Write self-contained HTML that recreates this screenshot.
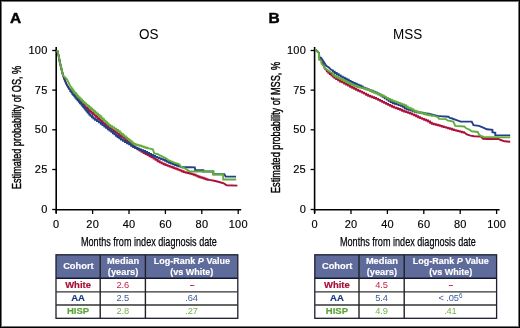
<!DOCTYPE html>
<html><head><meta charset="utf-8"><style>
html,body{margin:0;padding:0;background:#fff;}
body{width:520px;height:328px;position:relative;overflow:hidden;will-change:transform;font-family:"Liberation Sans",sans-serif;color:#000;}
.frame{position:absolute;left:0;top:0;width:520px;height:328px;box-sizing:border-box;border:1px solid #000;box-shadow:inset 0 0 0 1px rgba(0,0,0,0.55);z-index:5;}
.pl{position:absolute;top:10.1px;font-weight:bold;font-size:15.5px;line-height:16px;-webkit-text-stroke:0.45px #000;}
.ttl{position:absolute;top:26.3px;font-size:13.5px;line-height:16px;transform:scaleY(1.1);transform-origin:0 0;}
.yt{position:absolute;font-size:11px;line-height:13px;letter-spacing:0.25px;text-align:right;-webkit-text-stroke:0.15px #000;}
.xt{position:absolute;width:40px;text-align:center;font-size:11px;line-height:13px;letter-spacing:0.25px;-webkit-text-stroke:0.15px #000;}
.ylab{position:absolute;font-size:12.5px;line-height:14px;white-space:nowrap;transform-origin:0 0;-webkit-text-stroke:0.4px #000;}
.hd span{white-space:nowrap;}
.xlab{position:absolute;font-size:12.8px;line-height:15px;white-space:nowrap;transform-origin:0 0;-webkit-text-stroke:0.25px #000;}
svg{position:absolute;left:0;top:0;}
.cell{position:absolute;display:flex;align-items:center;justify-content:center;text-align:center;font-size:9.3px;line-height:10.5px;white-space:nowrap;}
.hdc{color:#fff;font-weight:bold;-webkit-text-stroke:0.15px #fff;}
.hdc span{position:relative;top:0.2px;left:0.3px;}
.hd3{font-size:9.0px;}
.b{font-weight:bold;font-size:9.5px;-webkit-text-stroke:0.2px currentColor;}
.n{letter-spacing:-0.15px;}
.dash{font-weight:bold;font-size:8.6px;position:relative;left:0.4px;}
.sup{font-size:6.3px;position:relative;top:-2.9px;left:0.2px;}
.red{color:#a80f38;} .blue{color:#1c3a82;} .green{color:#5ca43a;}
.nred{color:#c0244c;} .nblue{color:#3d5b98;} .ngreen{color:#74b04e;}
</style></head><body>
<div class="frame"></div>
<div class="pl" style="left:10px">A</div>
<div class="pl" style="left:268.5px">B</div>
<div class="ttl" style="left:139px">OS</div>
<div class="ttl" style="left:393px">MSS</div>
<div class="yt" style="right:472.4px;top:44.0px">100</div><div class="yt" style="right:472.4px;top:83.6px">75</div><div class="yt" style="right:472.4px;top:123.30000000000001px">50</div><div class="yt" style="right:472.4px;top:163.0px">25</div><div class="yt" style="right:472.4px;top:203.0px">0</div><div class="xt" style="left:36.3px;top:217.5px">0</div><div class="xt" style="left:72.7px;top:217.5px">20</div><div class="xt" style="left:109.1px;top:217.5px">40</div><div class="xt" style="left:145.5px;top:217.5px">60</div><div class="xt" style="left:181.9px;top:217.5px">80</div><div class="xt" style="left:218.3px;top:217.5px">100</div>
<div class="yt" style="right:214.0px;top:44.0px">100</div><div class="yt" style="right:214.0px;top:83.6px">75</div><div class="yt" style="right:214.0px;top:123.30000000000001px">50</div><div class="yt" style="right:214.0px;top:163.0px">25</div><div class="yt" style="right:214.0px;top:203.0px">0</div><div class="xt" style="left:294.7px;top:217.5px">0</div><div class="xt" style="left:331.1px;top:217.5px">20</div><div class="xt" style="left:367.5px;top:217.5px">40</div><div class="xt" style="left:403.9px;top:217.5px">60</div><div class="xt" style="left:440.3px;top:217.5px">80</div><div class="xt" style="left:476.7px;top:217.5px">100</div>
<div class="ylab" style="left:10px;top:189px;transform:rotate(-90deg) scaleX(0.726)">Estimated probability of OS, %</div>
<div class="ylab" style="left:268.5px;top:192.5px;transform:rotate(-90deg) scaleX(0.734)">Estimated probability of MSS, %</div>
<div class="xlab" style="left:81px;top:233.9px;transform:scaleX(0.71)">Months from index diagnosis date</div>
<div class="xlab" style="left:340px;top:233.9px;transform:scaleX(0.71)">Months from index diagnosis date</div>
<svg width="520" height="328" viewBox="0 0 520 328">
<line x1="56.2" y1="47" x2="56.2" y2="213" stroke="#000" stroke-width="1.6"/><line x1="56.2" y1="209.7" x2="241.2" y2="209.7" stroke="#000" stroke-width="1.6"/><line x1="52.2" y1="50.5" x2="56.2" y2="50.5" stroke="#000" stroke-width="1.3"/><line x1="52.2" y1="90.1" x2="56.2" y2="90.1" stroke="#000" stroke-width="1.3"/><line x1="52.2" y1="129.8" x2="56.2" y2="129.8" stroke="#000" stroke-width="1.3"/><line x1="52.2" y1="169.5" x2="56.2" y2="169.5" stroke="#000" stroke-width="1.3"/><line x1="52.2" y1="209.5" x2="56.2" y2="209.5" stroke="#000" stroke-width="1.3"/><line x1="56.2" y1="209.5" x2="56.2" y2="214" stroke="#000" stroke-width="1.3"/><line x1="92.6" y1="209.5" x2="92.6" y2="214" stroke="#000" stroke-width="1.3"/><line x1="129.0" y1="209.5" x2="129.0" y2="214" stroke="#000" stroke-width="1.3"/><line x1="165.4" y1="209.5" x2="165.4" y2="214" stroke="#000" stroke-width="1.3"/><line x1="201.8" y1="209.5" x2="201.8" y2="214" stroke="#000" stroke-width="1.3"/><line x1="238.2" y1="209.5" x2="238.2" y2="214" stroke="#000" stroke-width="1.3"/><line x1="314.6" y1="47" x2="314.6" y2="213" stroke="#000" stroke-width="1.6"/><line x1="314.6" y1="209.7" x2="499.6" y2="209.7" stroke="#000" stroke-width="1.6"/><line x1="310.6" y1="50.5" x2="314.6" y2="50.5" stroke="#000" stroke-width="1.3"/><line x1="310.6" y1="90.1" x2="314.6" y2="90.1" stroke="#000" stroke-width="1.3"/><line x1="310.6" y1="129.8" x2="314.6" y2="129.8" stroke="#000" stroke-width="1.3"/><line x1="310.6" y1="169.5" x2="314.6" y2="169.5" stroke="#000" stroke-width="1.3"/><line x1="310.6" y1="209.5" x2="314.6" y2="209.5" stroke="#000" stroke-width="1.3"/><line x1="314.6" y1="209.5" x2="314.6" y2="214" stroke="#000" stroke-width="1.3"/><line x1="351.0" y1="209.5" x2="351.0" y2="214" stroke="#000" stroke-width="1.3"/><line x1="387.4" y1="209.5" x2="387.4" y2="214" stroke="#000" stroke-width="1.3"/><line x1="423.8" y1="209.5" x2="423.8" y2="214" stroke="#000" stroke-width="1.3"/><line x1="460.2" y1="209.5" x2="460.2" y2="214" stroke="#000" stroke-width="1.3"/><line x1="496.6" y1="209.5" x2="496.6" y2="214" stroke="#000" stroke-width="1.3"/>
<polyline fill="none" stroke="#ad0f38" stroke-width="1.9" stroke-linejoin="miter" points="57.2,50.3 58.6,55.6 59.9,62.5 61.1,67.5 62.2,72.0 63.2,75.8 64.7,80.0 66.6,84.4 69.3,89.0 70.8,89.7 70.8,91.0 72.3,91.0 72.3,92.3 73.5,92.3 73.5,93.6 74.8,93.6 74.8,95.1 76.0,95.1 76.0,96.6 77.3,96.6 77.3,98.1 78.5,98.1 78.5,99.5 79.8,99.5 79.8,101.0 81.0,101.0 81.0,102.3 82.0,102.3 82.0,103.6 83.0,103.6 83.0,104.9 84.3,104.9 84.3,106.1 85.5,106.1 85.5,107.5 87.0,107.5 87.0,108.8 88.5,108.8 88.5,110.2 90.0,110.2 90.0,111.5 91.5,111.5 91.5,112.8 93.0,112.8 93.0,114.1 94.5,114.1 94.5,115.4 96.0,115.4 96.0,116.7 97.5,116.7 97.5,118.1 99.0,118.1 99.0,119.4 100.5,119.4 100.5,120.8 102.0,120.8 102.0,122.1 103.5,122.1 103.5,123.4 105.0,123.4 105.0,124.7 106.5,124.7 106.5,125.9 108.0,125.9 108.0,127.2 109.8,127.2 109.8,128.5 111.8,128.5 111.8,129.9 113.8,129.9 113.8,131.2 115.5,131.2 115.5,132.5 117.3,132.5 117.3,133.7 119.0,133.7 119.0,135.0 120.8,135.0 120.8,136.3 122.5,136.3 122.5,137.6 124.3,137.6 124.3,138.9 126.0,138.9 126.0,140.3 127.8,140.3 127.8,141.6 129.3,141.6 129.3,143.0 130.8,143.0 130.8,144.3 132.3,144.3 132.3,145.6 133.8,145.6 133.8,146.8 135.6,146.8 135.6,148.1 137.6,148.1 137.6,149.4 139.6,149.4 139.6,150.6 141.6,150.6 141.6,151.8 143.6,151.8 143.6,153.0 145.6,153.0 145.6,154.1 147.6,154.1 147.6,155.1 149.6,155.1 149.6,156.2 151.6,156.2 151.6,157.4 153.6,157.4 153.6,158.6 155.6,158.6 155.6,159.9 157.6,159.9 157.6,161.2 159.6,161.2 159.6,162.4 161.6,162.4 161.6,163.4 163.6,163.4 163.6,164.3 165.6,164.3 165.6,165.1 167.6,165.1 167.6,165.9 169.6,165.9 169.6,166.6 171.6,166.6 171.6,167.3 173.6,167.3 173.6,168.1 175.6,168.1 175.6,168.8 177.6,168.8 177.6,169.6 179.6,169.6 179.6,170.4 181.6,170.4 181.6,171.3 183.6,171.3 183.6,172.1 185.6,172.1 185.6,172.5 187.6,172.5 187.6,173.0 189.6,173.0 189.6,173.5 191.6,173.5 191.6,174.1 193.6,174.1 193.6,174.8 195.6,174.8 195.6,175.6 197.6,175.6 197.6,176.5 199.6,176.5 199.6,177.3 201.6,177.3 201.6,177.8 203.6,177.8 203.6,178.5 205.6,178.5 205.6,179.2 207.6,179.2 207.6,179.9 209.3,179.9 214.3,180.8 219.1,182.0 223.8,183.4 226.7,185.2 237.4,185.6"/><polyline fill="none" stroke="#223f88" stroke-width="1.9" stroke-linejoin="miter" points="57.2,50.3 58.6,55.6 59.9,62.5 61.1,67.5 62.2,72.0 63.2,75.8 64.7,80.0 66.6,84.4 69.3,89.0 70.3,89.7 70.3,91.0 71.3,91.0 71.3,92.4 72.3,92.4 72.3,93.7 73.3,93.7 73.3,95.0 74.3,95.0 74.3,96.3 75.3,96.3 75.3,97.6 76.3,97.6 76.3,98.9 77.5,98.9 77.5,100.3 78.8,100.3 78.8,101.7 80.0,101.7 80.0,103.2 81.3,103.2 81.3,104.6 82.3,104.6 82.3,105.8 83.3,105.8 83.3,107.1 84.3,107.1 84.3,108.3 85.3,108.3 85.3,109.5 86.3,109.5 86.3,110.8 87.3,110.8 87.3,112.0 88.3,112.0 88.3,113.2 89.3,113.2 89.3,114.5 90.5,114.5 90.5,115.8 92.0,115.8 92.0,117.2 93.5,117.2 93.5,118.5 95.0,118.5 95.0,119.7 97.0,119.7 97.0,121.1 99.0,121.1 99.0,122.4 100.8,122.4 100.8,123.7 102.5,123.7 102.5,125.1 104.3,125.1 104.3,126.5 106.0,126.5 106.0,127.9 107.8,127.9 107.8,129.2 109.5,129.2 109.5,130.5 111.3,130.5 111.3,131.9 113.0,131.9 113.0,133.2 114.5,133.2 114.5,134.4 116.0,134.4 116.0,135.7 117.5,135.7 117.5,137.0 119.3,137.0 119.3,138.3 121.0,138.3 121.0,139.6 123.0,139.6 123.0,140.9 125.0,140.9 125.0,142.0 127.0,142.0 127.0,143.2 129.1,143.2 129.1,144.4 131.1,144.4 131.1,145.7 133.1,145.7 133.1,147.0 135.1,147.0 135.1,148.0 137.1,148.0 137.1,148.8 139.1,148.8 139.1,149.5 141.1,149.5 141.1,150.3 143.1,150.3 143.1,151.0 145.1,151.0 145.1,152.0 147.1,152.0 147.1,153.0 149.1,153.0 149.1,154.0 151.1,154.0 151.1,155.0 153.1,155.0 153.1,156.0 155.1,156.0 155.1,156.9 157.1,156.9 157.1,157.6 159.1,157.6 159.1,158.4 161.1,158.4 161.1,159.1 163.1,159.1 163.1,159.9 165.1,159.9 165.1,160.8 167.1,160.8 167.1,161.9 169.1,161.9 169.1,162.8 171.1,162.8 171.1,163.5 173.1,163.5 173.1,164.3 175.1,164.3 175.1,165.0 177.1,165.0 177.1,165.7 179.1,165.7 179.1,166.2 179.3,166.2 181.7,167.2 189.9,167.2 194.8,167.4 195.2,170.2 203.3,170.2 203.3,171.5 213.3,171.5 213.3,174.3 224.3,174.3 225.7,176.6 236.0,176.6"/><polyline fill="none" stroke="#62ae3c" stroke-width="1.9" stroke-linejoin="miter" points="57.2,50.3 58.6,55.6 59.9,62.5 61.1,67.5 62.2,72.0 63.2,75.8 64.9,77.2 66.6,78.8 68.1,81.4 70.5,86.6 71.5,87.3 71.5,88.8 72.5,88.8 72.5,90.3 73.5,90.3 73.5,91.7 74.5,91.7 74.5,93.0 75.8,93.0 75.8,94.4 77.0,94.4 77.0,95.8 78.2,95.8 78.2,97.1 79.5,97.1 79.5,98.4 80.8,98.4 80.8,99.7 82.0,99.7 82.0,100.9 83.2,100.9 83.2,102.2 84.5,102.2 84.5,103.4 86.0,103.4 86.0,104.7 87.5,104.7 87.5,105.9 89.0,105.9 89.0,107.1 90.5,107.1 90.5,108.5 92.0,108.5 92.0,109.8 93.5,109.8 93.5,111.2 95.0,111.2 95.0,112.5 96.5,112.5 96.5,113.7 98.0,113.7 98.0,115.0 99.5,115.0 99.5,116.3 101.0,116.3 101.0,117.8 102.5,117.8 102.5,119.2 104.0,119.2 104.0,120.6 105.5,120.6 105.5,122.1 107.0,122.1 107.0,123.5 108.5,123.5 108.5,124.9 110.2,124.9 110.2,126.2 112.2,126.2 112.2,127.4 114.2,127.4 114.2,128.7 116.2,128.7 116.2,130.0 118.0,130.0 118.0,131.3 119.8,131.3 119.8,132.6 121.2,132.6 121.2,133.9 122.8,133.9 122.8,135.2 124.2,135.2 124.2,136.4 125.8,136.4 125.8,137.6 127.2,137.6 127.2,138.9 128.8,138.9 128.8,140.1 130.2,140.1 130.2,141.3 131.8,141.3 131.8,142.6 133.5,142.6 133.5,143.9 135.5,143.9 135.5,144.7 137.5,144.7 137.5,145.3 139.5,145.3 139.5,145.8 141.5,145.8 141.5,146.4 143.5,146.4 143.5,147.1 145.5,147.1 145.5,147.8 147.5,147.8 147.5,148.4 149.0,148.4 152.8,149.3 154.3,153.4 157.3,154.0 161.0,155.9 165.9,158.3 168.3,160.1 174.4,162.6 179.3,164.4 181.1,166.8 185.4,168.7 189.9,171.5 213.3,171.5 213.3,174.5 223.2,174.5 223.2,179.5 236.2,179.5"/>
<polyline fill="none" stroke="#ad0f38" stroke-width="1.9" stroke-linejoin="miter" points="315.7,50.1 317.0,51.0 318.9,52.9 319.3,59.0 321.3,60.5 323.0,64.0 325.3,69.3 326.8,70.0 326.8,71.3 328.3,71.3 328.3,72.7 329.8,72.7 329.8,74.0 331.3,74.0 331.3,75.3 332.8,75.3 332.8,76.6 334.3,76.6 334.3,77.8 336.1,77.8 336.1,79.1 338.1,79.1 338.1,80.3 340.1,80.3 340.1,81.5 342.1,81.5 342.1,82.4 344.1,82.4 344.1,83.5 346.1,83.5 346.1,84.5 348.1,84.5 348.1,85.6 350.1,85.6 350.1,86.7 352.1,86.7 352.1,87.8 354.1,87.8 354.1,88.8 356.1,88.8 356.1,89.7 358.1,89.7 358.1,90.7 360.1,90.7 360.1,91.6 362.1,91.6 362.1,92.6 364.1,92.6 364.1,93.6 366.1,93.6 366.1,94.7 368.1,94.7 368.1,95.7 370.1,95.7 370.1,96.5 372.1,96.5 372.1,97.2 374.1,97.2 374.1,98.0 376.1,98.0 376.1,98.9 378.1,98.9 378.1,99.9 380.1,99.9 380.1,100.9 382.1,100.9 382.1,101.9 384.1,101.9 384.1,102.9 386.1,102.9 386.1,103.9 388.1,103.9 388.1,104.9 390.1,104.9 390.1,105.8 392.1,105.8 392.1,106.8 394.1,106.8 394.1,107.6 396.1,107.6 396.1,108.3 398.1,108.3 398.1,109.0 400.1,109.0 400.1,109.8 402.1,109.8 402.1,110.7 404.1,110.7 404.1,111.5 406.1,111.5 406.1,112.1 408.1,112.1 408.1,112.8 410.1,112.8 410.1,113.5 412.1,113.5 412.1,114.4 414.1,114.4 414.1,115.3 416.1,115.3 416.1,116.3 418.1,116.3 418.1,117.2 420.1,117.2 420.1,118.1 422.1,118.1 422.1,118.9 424.1,118.9 424.1,119.7 426.1,119.7 426.1,120.5 428.1,120.5 428.1,121.5 430.1,121.5 430.1,122.7 431.8,122.7 431.8,123.7 433.8,123.7 433.8,124.2 435.8,124.2 435.8,124.7 437.8,124.7 437.8,125.3 439.8,125.3 439.8,125.9 441.8,125.9 441.8,126.5 443.8,126.5 443.8,127.1 445.8,127.1 445.8,127.6 447.8,127.6 447.8,128.2 449.8,128.2 449.8,128.8 451.8,128.8 451.8,129.5 453.8,129.5 453.8,130.1 455.8,130.1 455.8,130.6 457.8,130.6 457.8,131.1 459.8,131.1 459.8,131.6 461.8,131.6 461.8,132.2 463.8,132.2 463.8,132.5 464.3,132.5 466.8,134.4 470.5,135.6 474.1,136.2 480.8,136.5 483.1,138.8 488.0,139.0 498.7,139.0 500.7,140.0 504.6,141.3 510.2,141.7"/><polyline fill="none" stroke="#223f88" stroke-width="1.9" stroke-linejoin="miter" points="315.7,50.1 317.0,51.0 318.9,52.9 319.5,57.5 321.1,57.9 323.9,62.0 326.2,65.7 328.9,67.5 331.2,69.8 332.9,70.4 332.9,71.7 334.7,71.7 334.7,73.0 336.7,73.0 336.7,74.2 338.7,74.2 338.7,75.4 340.7,75.4 340.7,76.6 342.7,76.6 342.7,77.6 344.7,77.6 344.7,78.7 346.7,78.7 346.7,79.8 348.7,79.8 348.7,80.9 350.7,80.9 350.7,81.9 352.7,81.9 352.7,82.9 354.7,82.9 354.7,83.8 356.7,83.8 356.7,84.6 358.7,84.6 358.7,85.4 360.7,85.4 360.7,86.5 362.7,86.5 362.7,87.6 364.7,87.6 364.7,88.5 366.7,88.5 366.7,89.3 368.7,89.3 368.7,90.1 370.7,90.1 370.7,90.8 372.7,90.8 372.7,91.6 374.7,91.6 374.7,92.4 376.7,92.4 376.7,93.4 378.7,93.4 378.7,94.4 380.7,94.4 380.7,95.6 382.7,95.6 382.7,96.9 384.7,96.9 384.7,98.2 386.7,98.2 386.7,99.6 388.7,99.6 388.7,100.9 390.7,100.9 390.7,102.1 392.7,102.1 392.7,103.0 394.7,103.0 394.7,103.7 396.7,103.7 396.7,104.4 398.7,104.4 398.7,105.1 400.7,105.1 400.7,105.8 402.7,105.8 402.7,106.9 404.7,106.9 404.7,108.3 406.7,108.3 406.7,109.3 408.7,109.3 408.7,109.9 410.7,109.9 410.7,110.4 412.7,110.4 412.7,111.1 414.7,111.1 414.7,111.7 416.7,111.7 416.7,112.2 418.7,112.2 418.7,112.5 420.7,112.5 420.7,112.8 422.7,112.8 422.7,113.1 424.7,113.1 424.7,113.4 426.7,113.4 426.7,113.7 428.7,113.7 428.7,114.1 430.7,114.1 430.7,114.6 432.7,114.6 432.7,115.1 434.7,115.1 434.7,115.6 436.7,115.6 436.7,116.1 438.7,116.1 448.5,116.7 449.8,117.9 452.2,118.5 455.9,119.8 460.7,121.6 471.7,121.6 473.5,125.2 479.0,125.9 483.8,127.8 486.9,129.3 492.4,129.8 492.4,132.2 495.3,132.7 495.3,135.1 510.2,135.4"/><polyline fill="none" stroke="#62ae3c" stroke-width="1.9" stroke-linejoin="miter" points="315.7,50.1 317.0,51.0 318.9,52.9 319.1,59.7 321.1,60.6 321.6,63.8 323.4,65.7 324.4,68.0 326.6,69.3 328.9,71.2 331.2,72.5 332.7,73.2 332.7,74.6 334.2,74.6 334.2,75.9 335.9,75.9 335.9,77.0 337.9,77.0 337.9,77.9 339.9,77.9 339.9,78.9 341.9,78.9 341.9,80.0 343.9,80.0 343.9,81.0 345.9,81.0 345.9,82.0 347.9,82.0 347.9,83.0 349.9,83.0 349.9,84.0 351.9,84.0 351.9,84.9 353.9,84.9 353.9,85.8 355.9,85.8 355.9,86.5 357.9,86.5 357.9,87.1 359.9,87.1 359.9,87.6 361.9,87.6 361.9,88.1 363.9,88.1 363.9,88.6 365.9,88.6 365.9,89.3 367.9,89.3 367.9,90.0 369.9,90.0 369.9,90.8 371.9,90.8 371.9,91.7 373.9,91.7 373.9,92.6 375.9,92.6 375.9,93.4 377.9,93.4 377.9,94.2 379.9,94.2 379.9,95.0 381.9,95.0 381.9,95.7 383.9,95.7 383.9,96.6 385.9,96.6 385.9,97.9 387.9,97.9 387.9,98.9 389.9,98.9 389.9,99.8 391.9,99.8 391.9,100.6 393.9,100.6 393.9,101.4 395.9,101.4 395.9,102.1 397.9,102.1 397.9,102.9 399.9,102.9 399.9,103.6 401.9,103.6 401.9,104.4 403.9,104.4 403.9,105.2 405.9,105.2 405.9,106.5 407.7,106.5 407.7,107.7 409.7,107.7 409.7,108.5 411.7,108.5 411.7,109.5 413.7,109.5 413.7,110.7 415.7,110.7 415.7,111.5 417.7,111.5 417.7,112.0 419.7,112.0 419.7,112.6 421.7,112.6 421.7,113.3 423.7,113.3 423.7,114.0 425.7,114.0 425.7,114.5 427.7,114.5 427.7,115.0 429.7,115.0 429.7,115.4 431.7,115.4 431.7,115.7 433.7,115.7 433.7,115.9 434.2,115.9 437.9,117.1 439.1,118.9 446.1,119.1 447.3,120.4 453.4,121.6 455.2,125.9 464.4,126.5 466.2,128.3 469.3,129.5 471.7,131.3 477.8,132.0 479.0,134.4 480.8,135.8 483.8,137.0 494.6,137.3 510.2,137.4"/>
</svg>
<svg width="520" height="328" style="position:absolute;left:0;top:0">
<rect x="56" y="254.8" width="181.8" height="23.399999999999977" fill="#5e6b9b"/>
<rect x="56" y="254.8" width="181.8" height="63.5" fill="none" stroke="#1c1f2c" stroke-width="1.3"/>
<line x1="56" y1="278.2" x2="237.8" y2="278.2" stroke="#141a33" stroke-width="1.4"/>
<line x1="56" y1="291.8" x2="237.8" y2="291.8" stroke="#333" stroke-width="1.3"/>
<line x1="56" y1="305.0" x2="237.8" y2="305.0" stroke="#333" stroke-width="1.3"/>
<line x1="100.2" y1="254.8" x2="100.2" y2="318.3" stroke="#222" stroke-width="1.4"/>
<line x1="145.4" y1="254.8" x2="145.4" y2="318.3" stroke="#222" stroke-width="1.4"/>
</svg><div class="cell hdc" style="left:56.0px;top:254.8px;width:44.2px;height:23.4px"><span>Cohort</span></div><div class="cell hdc" style="left:100.2px;top:254.8px;width:45.2px;height:23.4px"><span>Median<br>(years)</span></div><div class="cell hdc hd3" style="left:145.4px;top:254.8px;width:92.4px;height:23.4px"><span>Log-Rank <i>P</i> Value<br>(vs White)</span></div><div class="cell b red" style="left:56.0px;top:278.2px;width:44.2px;height:13.6px"><span>White</span></div><div class="cell n nred" style="left:100.2px;top:278.2px;width:45.2px;height:13.6px"><span>2.6</span></div><div class="cell n nred" style="left:145.4px;top:278.2px;width:92.4px;height:13.6px"><span><span class=dash>&ndash;</span></span></div><div class="cell b blue" style="left:56.0px;top:291.8px;width:44.2px;height:13.2px"><span>AA</span></div><div class="cell n nblue" style="left:100.2px;top:291.8px;width:45.2px;height:13.2px"><span>2.5</span></div><div class="cell n nblue" style="left:145.4px;top:291.8px;width:92.4px;height:13.2px"><span>.64</span></div><div class="cell b green" style="left:56.0px;top:305.0px;width:44.2px;height:13.3px"><span>HISP</span></div><div class="cell n ngreen" style="left:100.2px;top:305.0px;width:45.2px;height:13.3px"><span>2.8</span></div><div class="cell n ngreen" style="left:145.4px;top:305.0px;width:92.4px;height:13.3px"><span>.27</span></div>
<svg width="520" height="328" style="position:absolute;left:0;top:0">
<rect x="314.8" y="254.8" width="181.8" height="23.399999999999977" fill="#5e6b9b"/>
<rect x="314.8" y="254.8" width="181.8" height="63.5" fill="none" stroke="#1c1f2c" stroke-width="1.3"/>
<line x1="314.8" y1="278.2" x2="496.6" y2="278.2" stroke="#141a33" stroke-width="1.4"/>
<line x1="314.8" y1="291.8" x2="496.6" y2="291.8" stroke="#333" stroke-width="1.3"/>
<line x1="314.8" y1="305.0" x2="496.6" y2="305.0" stroke="#333" stroke-width="1.3"/>
<line x1="359.0" y1="254.8" x2="359.0" y2="318.3" stroke="#222" stroke-width="1.4"/>
<line x1="404.20000000000005" y1="254.8" x2="404.20000000000005" y2="318.3" stroke="#222" stroke-width="1.4"/>
</svg><div class="cell hdc" style="left:314.8px;top:254.8px;width:44.2px;height:23.4px"><span>Cohort</span></div><div class="cell hdc" style="left:359.0px;top:254.8px;width:45.2px;height:23.4px"><span>Median<br>(years)</span></div><div class="cell hdc hd3" style="left:404.2px;top:254.8px;width:92.4px;height:23.4px"><span>Log-Rank <i>P</i> Value<br>(vs White)</span></div><div class="cell b red" style="left:314.8px;top:278.2px;width:44.2px;height:13.6px"><span>White</span></div><div class="cell n nred" style="left:359.0px;top:278.2px;width:45.2px;height:13.6px"><span>4.5</span></div><div class="cell n nred" style="left:404.2px;top:278.2px;width:92.4px;height:13.6px"><span><span class=dash>&ndash;</span></span></div><div class="cell b blue" style="left:314.8px;top:291.8px;width:44.2px;height:13.2px"><span>AA</span></div><div class="cell n nblue" style="left:359.0px;top:291.8px;width:45.2px;height:13.2px"><span>5.4</span></div><div class="cell n nblue" style="left:404.2px;top:291.8px;width:92.4px;height:13.2px"><span>&lt; .05<span class=sup>6</span></span></div><div class="cell b green" style="left:314.8px;top:305.0px;width:44.2px;height:13.3px"><span>HISP</span></div><div class="cell n ngreen" style="left:359.0px;top:305.0px;width:45.2px;height:13.3px"><span>4.9</span></div><div class="cell n ngreen" style="left:404.2px;top:305.0px;width:92.4px;height:13.3px"><span>.41</span></div>
</body></html>
